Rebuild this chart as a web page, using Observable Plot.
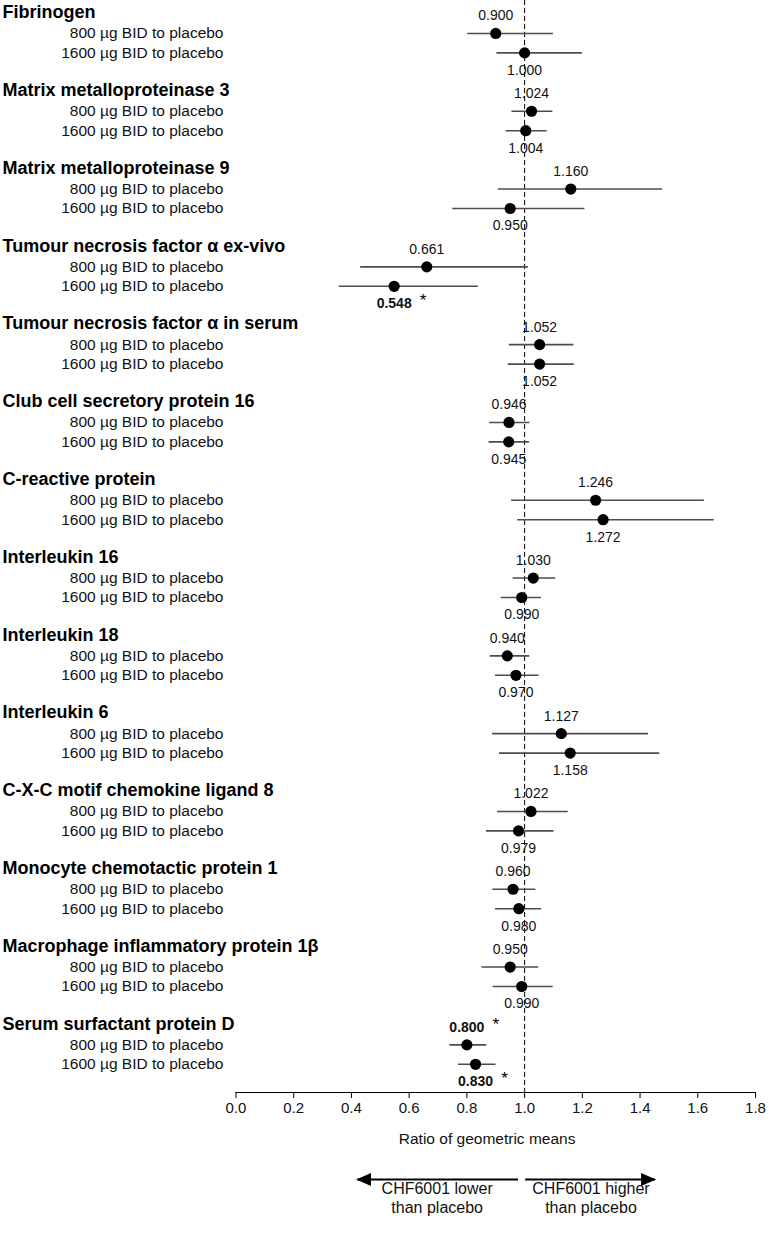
<!DOCTYPE html>
<html><head><meta charset="utf-8">
<script src="https://cdn.jsdelivr.net/npm/d3@7"></script>
<script src="https://cdn.jsdelivr.net/npm/@observablehq/plot@0.6"></script>
<style>body{margin:0;background:#fff}#chart svg{display:block}</style>
</head><body><div id="chart"></div>
<script>
const biomarkers = [
  "Fibrinogen",
  "Matrix metalloproteinase 3",
  "Matrix metalloproteinase 9",
  "Tumour necrosis factor α ex-vivo",
  "Tumour necrosis factor α in serum",
  "Club cell secretory protein 16",
  "C-reactive protein",
  "Interleukin 16",
  "Interleukin 18",
  "Interleukin 6",
  "C-X-C motif chemokine ligand 8",
  "Monocyte chemotactic protein 1",
  "Macrophage inflammatory protein 1β",
  "Serum surfactant protein D"
];
const doseLabels = ["800 µg BID to placebo", "1600 µg BID to placebo"];

const est800  = [0.900, 1.024, 1.160, 0.661, 1.052, 0.946, 1.246, 1.030, 0.940, 1.127, 1.022, 0.960, 0.950, 0.800];
const lo800   = [0.803, 0.956, 0.909, 0.432, 0.947, 0.879, 0.955, 0.960, 0.881, 0.889, 0.906, 0.890, 0.852, 0.741];
const hi800   = [1.100, 1.098, 1.478, 1.013, 1.171, 1.018, 1.623, 1.108, 1.018, 1.429, 1.151, 1.039, 1.049, 0.869];
const sig800  = [false, false, false, false, false, false, false, false, false, false, false, false, false, true];

const est1600 = [1.000, 1.004, 0.950, 0.548, 1.052, 0.945, 1.272, 0.990, 0.970, 1.158, 0.979, 0.980, 0.990, 0.830];
const lo1600  = [0.904, 0.936, 0.751, 0.358, 0.943, 0.877, 0.976, 0.919, 0.899, 0.913, 0.868, 0.899, 0.891, 0.771];
const hi1600  = [1.200, 1.078, 1.209, 0.840, 1.172, 1.017, 1.657, 1.058, 1.050, 1.468, 1.102, 1.059, 1.099, 0.901];
const sig1600 = [false, false, false, true, false, false, false, false, false, false, false, false, false, true];

const xTicks = [0, 0.2, 0.4, 0.6, 0.8, 1.0, 1.2, 1.4, 1.6, 1.8];
const xDomain = [0, 1.8];
const referenceValue = [1];
const axisTitle = ["Ratio of geometric means"];
const axisTitleX = 0.87;
const directionArrows = [{from: 0.977, to: 0.42}, {from: 1.002, to: 1.452}];
const directionLabels = [
  {x: 0.697, text: "CHF6001 lower\nthan placebo"},
  {x: 1.230, text: "CHF6001 higher\nthan placebo"}
];

// layout rows: header, 800, 1600, gap per biomarker
const rows = biomarkers.flatMap((b, i) => [
  {u: 4 * i + 1, label: doseLabels[0], est: est800[i], lo: lo800[i], hi: hi800[i], sig: sig800[i], pos: "above"},
  {u: 4 * i + 2, label: doseLabels[1], est: est1600[i], lo: lo1600[i], hi: hi1600[i], sig: sig1600[i], pos: "below"}
]);
const headers = biomarkers.map((b, i) => ({u: 4 * i, text: b}));
const axisU = 55.45;
const fmt = d3.format(".3f");
const FONT = "'Liberation Sans', Arial, Helvetica, sans-serif";

const valueText = (filter, dy, bold) => Plot.text(rows.filter(filter), {
  x: "est", y: "u", text: d => fmt(d.est), dy, fontSize: 14,
  fontWeight: bold ? "bold" : "normal", fill: "#111"
});

const chart = Plot.plot({
  width: 768,
  height: 1233,
  marginLeft: 235.5,
  marginRight: 13,
  marginTop: 0,
  marginBottom: 141,
  style: {fontFamily: FONT, fontSize: "15px", color: "#000", background: "#fff"},
  x: {domain: xDomain},
  y: {domain: [0, axisU], range: [13.5, 1092], axis: null},
  marks: [
    Plot.ruleX(referenceValue, {stroke: "#000", strokeWidth: 1, strokeDasharray: "5,3"}),
    Plot.ruleY(rows, {y: "u", x1: "lo", x2: "hi", stroke: "#4d4d4d", strokeWidth: 1.6}),
    Plot.dot(rows, {x: "est", y: "u", r: 5.6, fill: "#000", stroke: "none"}),
    valueText(d => d.pos === "above" && !d.sig, -17.5, false),
    valueText(d => d.pos === "below" && !d.sig, 17.5, false),
    valueText(d => d.pos === "above" && d.sig, -17.5, true),
    valueText(d => d.pos === "below" && d.sig, 17.5, true),
    Plot.text(rows.filter(d => d.sig && d.pos === "above"), {x: "est", y: "u", text: () => "*", dx: 29, dy: -20.5, fontSize: 17}),
    Plot.text(rows.filter(d => d.sig && d.pos === "below"), {x: "est", y: "u", text: () => "*", dx: 29, dy: 14.5, fontSize: 17}),
    Plot.text(headers, {y: "u", text: "text", frameAnchor: "left", dx: -233.5, dy: -1.5, textAnchor: "start", fontWeight: "bold", fontSize: 18, fill: "#000"}),
    Plot.text(rows, {y: "u", text: "label", frameAnchor: "left", dx: -12.5, textAnchor: "end", fontSize: 15.5, fill: "#111"}),
    Plot.frame({anchor: "bottom", stroke: "#000"}),
    Plot.axisX({ticks: xTicks, tickFormat: d3.format(".1f"), tickSize: 6, tickPadding: 4, fontSize: 15, stroke: "#000", fill: "#111", label: null}),
    Plot.text(axisTitle, {x: () => axisTitleX, frameAnchor: "bottom", dy: 51, fontSize: 15.5, fill: "#111"}),
    Plot.link(directionArrows, {x1: "from", x2: "to", y1: () => axisU, y2: () => axisU, dy: 87, stroke: "#000", strokeWidth: 2}),
    Plot.text(directionLabels, {x: "x", text: "text", frameAnchor: "bottom", dy: 120.5, lineHeight: 1.2, fontSize: 16, fill: "#111"})
  ]
});

// filled triangular arrowheads for the direction arrows
const svg = d3.select(chart);
const defs = svg.insert("defs", ":first-child");
defs.append("marker")
  .attr("id", "tri-head")
  .attr("markerUnits", "userSpaceOnUse")
  .attr("markerWidth", 16).attr("markerHeight", 14)
  .attr("refX", 14).attr("refY", 6.5)
  .attr("orient", "auto")
  .append("path").attr("d", "M0,0L15,6.5L0,13Z").attr("fill", "#000");
svg.selectAll("g[aria-label=link] path").attr("marker-end", "url(#tri-head)");

document.getElementById("chart").appendChild(chart);
</script>
</body></html>
